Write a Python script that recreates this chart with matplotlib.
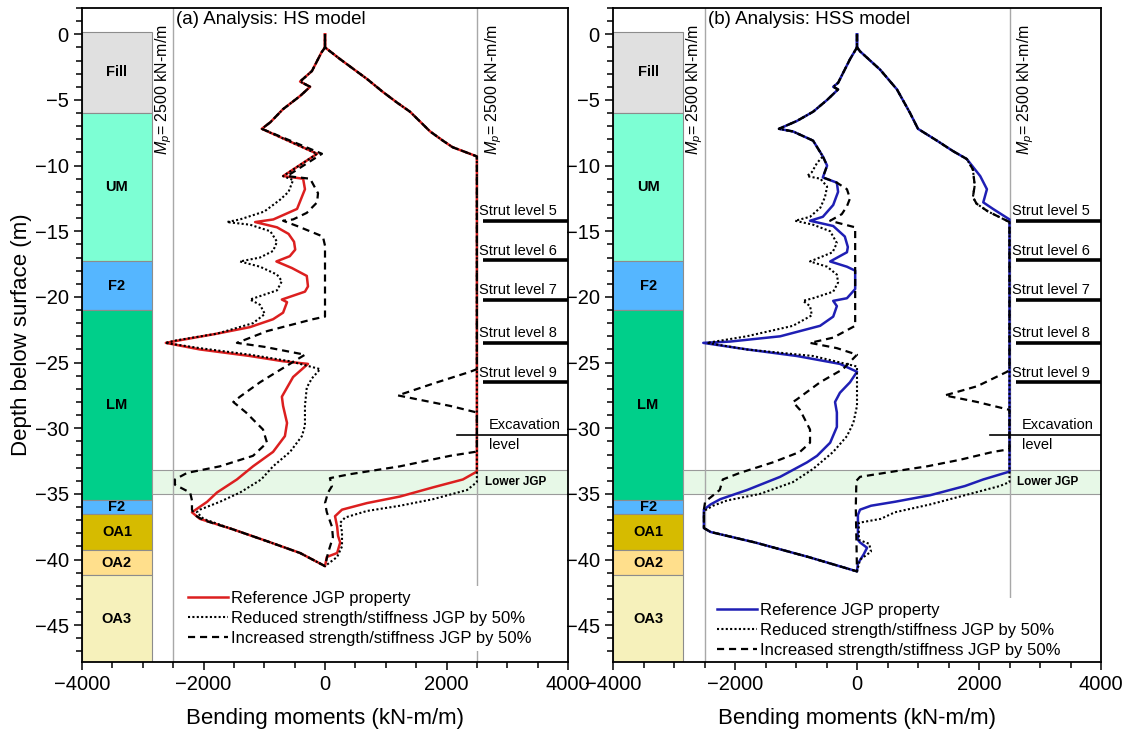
import matplotlib
matplotlib.use("Agg")
import matplotlib.pyplot as plt
from matplotlib.patches import Rectangle
from matplotlib.ticker import MultipleLocator

plt.rcParams["font.family"] = "Liberation Sans"
plt.rcParams["mathtext.fontset"] = "custom"
plt.rcParams["mathtext.rm"] = "Liberation Sans"
plt.rcParams["mathtext.it"] = "Liberation Sans:italic"

# %% Soil profile and excavation geometry (depth in m, moments in kN-m/m)
SOIL_NAMES = ["Fill", "UM", "F2", "LM", "F2", "OA1", "OA2", "OA3"]
SOIL_TOP = [0.2, -6.0, -17.3, -21.0, -35.5, -36.5, -39.3, -41.2]
SOIL_BOT = [-6.0, -17.3, -21.0, -35.5, -36.5, -39.3, -41.2, -47.8]
SOIL_COLORS = ["#e0e0e0", "#7dffd4", "#55b6ff", "#00cf8a",
               "#55b6ff", "#d6bb00", "#ffdf8c", "#f6f1bb"]

STRUT_NAMES = ["Strut level 5", "Strut level 6", "Strut level 7",
               "Strut level 8", "Strut level 9"]
STRUT_DEPTH = [-14.2, -17.2, -20.2, -23.5, -26.5]
EXCAVATION_DEPTH = -30.5
JGP_TOP, JGP_BOT = -33.2, -35.0
MP = 2500

# %% Bending moment envelopes: (moment, depth), left side top->bottom, right side bottom->top
HS_REF_LEFT = [(0, 0), (0, -1.0), (-60, -1.4), (-215, -2.8), (-410, -3.6), (-245, -4.0), (-410, -4.7),
               (-690, -5.7), (-900, -6.7), (-1040, -7.2), (-130, -9.1), (-690, -10.8), (-360, -11.0),
               (-330, -11.8), (-460, -13.3), (-850, -14.1), (-1150, -14.3), (-790, -14.7), (-600, -15.2),
               (-510, -15.8), (-490, -16.4), (-580, -16.9), (-800, -17.3), (-545, -17.8), (-300, -18.4),
               (-280, -19.2), (-330, -19.6), (-710, -20.2), (-625, -20.4), (-690, -21.2), (-855, -21.7),
               (-1235, -22.3), (-1780, -22.8), (-2390, -23.3), (-2620, -23.5), (-2060, -24.0),
               (-1235, -24.5), (-690, -24.9), (-280, -25.1), (-525, -26.1), (-710, -27.6), (-690, -28.3),
               (-625, -29.6), (-660, -30.6), (-855, -31.8), (-1185, -32.9), (-1450, -33.9),
               (-1780, -34.9), (-1940, -35.6), (-2190, -36.4), (-2060, -36.9), (-1515, -37.7),
               (-955, -38.6), (-410, -39.5), (0, -40.5)]
HS_REF_RIGHT = [(0, -40.5), (30, -39.8), (200, -39.5), (250, -38.7), (215, -38.2), (200, -37.5),
                (165, -36.7), (280, -36.2), (690, -35.7), (1235, -35.2), (1780, -34.5), (2270, -33.9),
                (2500, -33.3), (2500, -9.3), (2100, -8.6), (1940, -8.1), (1730, -7.4), (1400, -5.9),
                (1185, -5.2), (955, -4.4), (690, -3.4), (250, -1.9), (0, -1.0), (0, 0)]

HS_RED_LEFT = [(0, 0), (0, -1.0), (-60, -1.4), (-215, -2.8), (-410, -3.6), (-245, -4.0), (-410, -4.7),
               (-690, -5.7), (-900, -6.7), (-1040, -7.2), (-130, -9.1), (-690, -10.8), (-525, -11.1),
               (-600, -12.0), (-740, -12.6), (-1000, -13.5), (-1400, -14.1), (-1615, -14.3),
               (-1235, -14.5), (-900, -15.0), (-790, -15.8), (-855, -16.5), (-1070, -17.0),
               (-1400, -17.3), (-1070, -17.7), (-790, -18.3), (-710, -18.8), (-790, -19.5),
               (-1235, -20.2), (-1070, -20.6), (-990, -21.3), (-1185, -22.0), (-1780, -22.8),
               (-2440, -23.3), (-2630, -23.5), (-2060, -23.9), (-1235, -24.4), (-575, -24.9),
               (-80, -25.5), (-215, -26.2), (-300, -26.9), (-330, -28.3), (-330, -29.8), (-380, -30.6),
               (-575, -31.8), (-855, -32.9), (-1050, -33.9), (-1400, -34.9), (-1730, -35.6),
               (-2060, -36.2), (-2110, -36.4), (-2000, -36.9), (-1515, -37.7), (-955, -38.6),
               (-410, -39.5), (0, -40.5)]
HS_RED_RIGHT = [(0, -40.5), (200, -39.8), (280, -39.0), (280, -37.9), (250, -37.2), (330, -36.8),
                (690, -36.3), (1235, -35.9), (1780, -35.4), (2340, -34.7), (2500, -34.1), (2500, -9.3),
                (2100, -8.6), (1940, -8.1), (1730, -7.4), (1400, -5.9), (1185, -5.2), (955, -4.4),
                (690, -3.4), (250, -1.9), (0, -1.0), (0, 0)]

HS_INC_LEFT = [(0, 0), (0, -1.0), (-60, -1.4), (-215, -2.8), (-410, -3.6), (-245, -4.0), (-410, -4.7),
               (-690, -5.7), (-900, -6.7), (-1040, -7.2), (-50, -9.1), (-625, -10.8), (-245, -11.0),
               (-115, -12.1), (-130, -12.8), (-300, -13.6), (-525, -14.1), (-690, -14.2), (-460, -14.6),
               (-35, -15.4), (0, -16.1), (0, -21.5), (-200, -21.7), (-950, -22.6), (-1450, -23.5),
               (-1000, -23.8), (-330, -24.4), (-790, -25.7), (-1070, -26.5), (-1400, -27.6),
               (-1510, -28.0), (-1300, -28.8), (-1020, -30.1), (-955, -31.1), (-1185, -32.1),
               (-1730, -32.9), (-2270, -33.4), (-2470, -33.9), (-2470, -34.3), (-2220, -34.9),
               (-2190, -35.5), (-2190, -36.2), (-2150, -36.6), (-2000, -37.0), (-1515, -37.7),
               (-955, -38.6), (-410, -39.5), (0, -40.5)]
HS_INC_RIGHT = [(0, -40.5), (50, -39.5), (130, -38.3), (115, -37.5), (30, -36.4), (0, -35.7), (50, -34.9),
                (115, -34.4), (80, -33.8), (410, -33.5), (1235, -32.9), (2060, -32.1), (2470, -31.8),
                (2500, -31.6), (2500, -28.8), (2060, -28.3), (1200, -27.5), (1780, -26.6), (2390, -25.7),
                (2500, -25.5), (2500, -9.3), (2100, -8.6), (1940, -8.1), (1730, -7.4), (1400, -5.9),
                (1185, -5.2), (955, -4.4), (690, -3.4), (250, -1.9), (0, -1.0), (0, 0)]

HSS_REF_LEFT = [(0, 0), (0, -1.0), (-115, -1.9), (-310, -3.7), (-390, -4.0), (-310, -4.2), (-490, -5.0),
                (-720, -5.9), (-985, -6.6), (-1280, -7.2), (-1050, -7.4), (-720, -8.1), (-560, -9.3),
                (-490, -10.0), (-560, -10.9), (-330, -11.3), (-310, -12.0), (-390, -13.0), (-560, -13.9),
                (-770, -14.2), (-390, -14.6), (-200, -15.4), (-150, -16.2), (-165, -16.6), (-440, -17.3),
                (-165, -17.7), (-30, -18.0), (-30, -19.4), (-165, -20.1), (-390, -20.3), (-330, -20.7),
                (-390, -21.5), (-605, -22.2), (-1260, -23.0), (-2080, -23.4), (-2520, -23.5),
                (-1800, -24.0), (-985, -24.5), (-280, -25.1), (0, -25.7), (-115, -26.5), (-280, -27.3),
                (-360, -28.0), (-330, -28.8), (-330, -29.9), (-440, -31.1), (-655, -32.1), (-820, -32.6),
                (-1260, -33.7), (-1800, -34.7), (-2240, -35.4), (-2400, -35.8), (-2510, -36.2),
                (-2510, -37.6), (-2400, -37.9), (-1670, -38.7), (-800, -39.8), (0, -40.9)]
HSS_REF_RIGHT = [(0, -40.9), (15, -40.3), (110, -39.6), (165, -39.1), (50, -38.7), (15, -38.5),
                 (15, -36.6), (50, -36.2), (230, -35.9), (620, -35.6), (1200, -35.1), (1770, -34.4),
                 (2070, -33.9), (2500, -33.3), (2500, -14.1), (2230, -13.3), (2070, -12.8), (2130, -11.8),
                 (2020, -10.8), (1800, -9.5), (1575, -8.9), (1310, -8.1), (1000, -7.2), (870, -6.0),
                 (655, -4.2), (380, -2.7), (50, -1.3), (0, -1.0), (0, 0)]

HSS_RED_LEFT = [(0, 0), (0, -1.0), (-115, -1.9), (-310, -3.7), (-390, -4.0), (-310, -4.2), (-490, -5.0),
                (-720, -5.9), (-985, -6.6), (-1280, -7.2), (-1050, -7.4), (-720, -8.1), (-560, -9.3),
                (-655, -9.8), (-740, -10.5), (-820, -10.8), (-600, -11.0), (-490, -11.6), (-525, -12.4),
                (-600, -13.2), (-770, -13.9), (-1015, -14.2), (-720, -14.5), (-440, -15.0), (-330, -15.9),
                (-400, -16.6), (-770, -17.3), (-490, -17.7), (-330, -18.3), (-310, -18.9), (-390, -19.6),
                (-720, -20.1), (-885, -20.3), (-770, -20.7), (-740, -21.4), (-1050, -22.2),
                (-1810, -23.0), (-2460, -23.5), (-1810, -24.0), (-720, -24.5), (0, -25.3), (0, -28.3),
                (-60, -29.6), (-165, -30.6), (-390, -31.8), (-720, -33.1), (-1050, -34.1),
                (-1590, -35.0), (-2130, -35.5), (-2360, -35.9), (-2510, -36.3), (-2510, -37.6),
                (-2400, -37.9), (-1670, -38.7), (-800, -39.8), (0, -40.9)]
HSS_RED_RIGHT = [(0, -40.9), (50, -40.0), (230, -39.4), (200, -38.8), (30, -38.5), (30, -37.2),
                 (390, -36.9), (620, -36.4), (1200, -35.8), (1770, -35.1), (2340, -34.4), (2500, -34.1),
                 (2500, -14.3), (2150, -13.5), (1960, -12.9), (1900, -12.4), (1930, -11.5), (1900, -10.3),
                 (1800, -9.5), (1575, -8.9), (1310, -8.1), (1000, -7.2), (870, -6.0), (655, -4.2),
                 (380, -2.7), (50, -1.3), (0, -1.0), (0, 0)]

HSS_INC_LEFT = [(0, 0), (0, -1.0), (-115, -1.9), (-310, -3.7), (-390, -4.0), (-310, -4.2), (-490, -5.0),
                (-720, -5.9), (-985, -6.6), (-1280, -7.2), (-1050, -7.4), (-720, -8.1), (-560, -9.3),
                (-490, -10.0), (-560, -10.9), (-330, -11.3), (-165, -11.8), (-115, -12.5), (-165, -13.1),
                (-250, -13.7), (-440, -14.2), (-280, -14.4), (-30, -14.7), (-30, -22.2), (-390, -23.1),
                (-770, -23.5), (-330, -23.9), (0, -24.4), (-230, -25.5), (-605, -26.5), (-985, -27.8),
                (-1050, -28.0), (-935, -28.6), (-770, -30.1), (-770, -31.1), (-935, -31.8),
                (-1380, -32.6), (-1920, -33.4), (-2200, -33.9), (-2250, -34.7), (-2490, -35.6),
                (-2510, -36.2), (-2510, -37.6), (-2400, -37.9), (-1670, -38.7), (-800, -39.8), (0, -40.9)]
HSS_INC_RIGHT = [(0, -40.9), (-20, -36.0), (-10, -34.0), (50, -33.7), (590, -33.3), (1150, -32.9),
                 (1690, -32.4), (2230, -31.8), (2500, -31.6), (2500, -28.6), (1970, -28.0), (1440, -27.5),
                 (1970, -26.8), (2460, -25.7), (2500, -25.5), (2500, -14.3), (2150, -13.5), (1960, -12.9),
                 (1900, -12.4), (1930, -11.5), (1900, -10.3), (1800, -9.5), (1575, -8.9), (1310, -8.1),
                 (1000, -7.2), (870, -6.0), (655, -4.2), (380, -2.7), (50, -1.3), (0, -1.0), (0, 0)]

LEGEND_LABELS = ["Reference JGP property",
                 "Reduced strength/stiffness JGP by 50%",
                 "Increased strength/stiffness JGP by 50%"]


def envelope(left, right):
    pts = left + right
    return [p[0] for p in pts], [p[1] for p in pts]


def draw_panel(ax, title, ref_color, curves, legend_anchor):
    # soil column
    for name, top, bot, col in zip(SOIL_NAMES, SOIL_TOP, SOIL_BOT, SOIL_COLORS):
        ax.add_patch(Rectangle((-4000, bot), 1150, top - bot, facecolor=col,
                               edgecolor="#8c8c8c", lw=0.8, zorder=1))
        ax.text(-3425, (top + bot) / 2, name, ha="center", va="center",
                fontsize=10.5, fontweight="bold", zorder=2)

    # lower jet-grout slab
    ax.add_patch(Rectangle((-2850, JGP_BOT), 6850, JGP_TOP - JGP_BOT, facecolor="#e7f8e7",
                           edgecolor="#9a9a9a", lw=0.8, zorder=1))
    ax.text(2630, (JGP_TOP + JGP_BOT) / 2, "Lower JGP", ha="left", va="center",
            fontsize=8.5, fontweight="bold", zorder=2)

    # plastic moment capacity
    for xm in (-MP, MP):
        ax.axvline(xm, color="#a8a8a8", lw=1.0, zorder=1.5)
    ax.text(-MP - 160, 0.8, r"$M_p$= 2500 kN-m/m", rotation=90, ha="center", va="top",
            fontsize=11.5, zorder=2)
    ax.text(MP + 270, 0.8, r"$M_p$= 2500 kN-m/m", rotation=90, ha="center", va="top",
            fontsize=11.5, zorder=2)

    styles = [dict(color=ref_color, lw=1.8, ls="-"),
              dict(color="black", lw=1.5, ls=(0, (1, 1.1))),
              dict(color="black", lw=1.6, ls=(0, (3.2, 2.2)))]
    handles = []
    for (left, right), st, lab in zip(curves, styles, LEGEND_LABELS):
        m, z = envelope(left, right)
        h, = ax.plot(m, z, zorder=3, label=lab, **st)
        handles.append(h)

    # struts and formation level
    for name, z in zip(STRUT_NAMES, STRUT_DEPTH):
        ax.plot([2600, 4000], [z, z], color="black", lw=2.6, solid_capstyle="butt", zorder=4)
        ax.text(2540, z + 0.2, name, ha="left", va="bottom", fontsize=10.5, zorder=4)
    ax.plot([2180, 4000], [EXCAVATION_DEPTH] * 2, color="black", lw=1.2, zorder=4)
    ax.text(2700, EXCAVATION_DEPTH + 0.25, "Excavation", ha="left", va="bottom", fontsize=10.5)
    ax.text(2700, EXCAVATION_DEPTH - 0.25, "level", ha="left", va="top", fontsize=10.5)

    ax.text(-2450, 1.1, title, ha="left", va="center", fontsize=13.5, zorder=4)

    leg = ax.legend(handles=handles, loc="upper left", bbox_to_anchor=legend_anchor,
                    fontsize=12, frameon=True, facecolor="white", edgecolor="none",
                    framealpha=1, fancybox=False, borderpad=0.3, borderaxespad=0,
                    labelspacing=0.3, handlelength=2.4, handletextpad=0.15)
    leg.set_zorder(5)

    ax.set_xlim(-4000, 4000)
    ax.set_ylim(-47.8, 2.0)
    ax.xaxis.set_major_locator(MultipleLocator(2000))
    ax.xaxis.set_minor_locator(MultipleLocator(500))
    ax.yaxis.set_major_locator(MultipleLocator(5))
    ax.yaxis.set_minor_locator(MultipleLocator(1))
    ax.tick_params(which="both", direction="out", width=1.1, labelsize=14.5)
    ax.tick_params(which="major", length=6)
    ax.tick_params(which="minor", length=4)
    for sp in ax.spines.values():
        sp.set_linewidth(1.3)
        sp.set_zorder(6)
    ax.set_xlabel("Bending moments (kN-m/m)", fontsize=16, labelpad=10)


fig = plt.figure(figsize=(11.29, 7.34), dpi=100)
ax_a = fig.add_axes([82 / 1129, 1 - 662 / 734, 486 / 1129, 654 / 734])
ax_b = fig.add_axes([613 / 1129, 1 - 662 / 734, 488 / 1129, 654 / 734])

draw_panel(ax_a, "(a) Analysis: HS model", "#dc1f1f",
           [(HS_REF_LEFT, HS_REF_RIGHT), (HS_RED_LEFT, HS_RED_RIGHT), (HS_INC_LEFT, HS_INC_RIGHT)],
           (0.208, 0.116))
draw_panel(ax_b, "(b) Analysis: HSS model", "#1f1fb4",
           [(HSS_REF_LEFT, HSS_REF_RIGHT), (HSS_RED_LEFT, HSS_RED_RIGHT), (HSS_INC_LEFT, HSS_INC_RIGHT)],
           (0.203, 0.098))

ax_a.set_ylabel("Depth below surface (m)", fontsize=16, labelpad=2)

fig.savefig("out.png", dpi=100)
